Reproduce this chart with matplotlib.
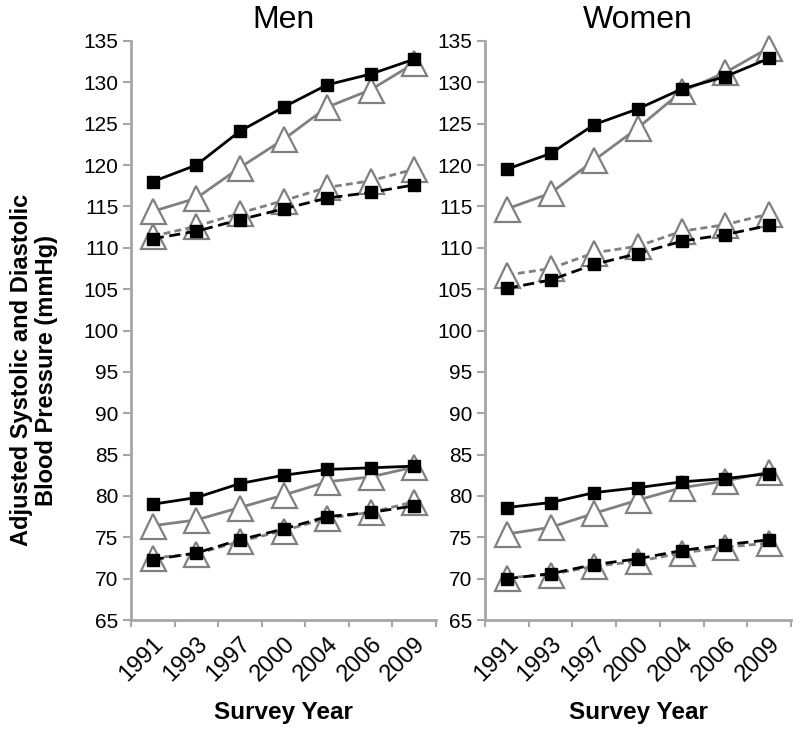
import matplotlib
matplotlib.use("Agg")
import matplotlib.pyplot as plt
import numpy as np

plt.rcParams['font.family'] = ['Liberation Sans', 'DejaVu Sans']

years = ["1991", "1993", "1997", "2000", "2004", "2006", "2009"]

# Men
men_sys_a = [118.0, 120.0, 124.1, 127.0, 129.7, 131.0, 132.8]   # solid black squares
men_sys_b = [114.4, 116.0, 119.7, 123.1, 127.0, 129.1, 132.3]   # solid gray triangles
men_sys_c = [111.1, 112.0, 113.4, 114.7, 116.0, 116.7, 117.6]   # dashed black squares
men_sys_d = [111.4, 112.6, 114.2, 115.7, 117.3, 118.1, 119.5]   # dashed gray triangles
men_dia_a = [79.0, 79.8, 81.5, 82.5, 83.2, 83.4, 83.6]
men_dia_b = [76.4, 77.1, 78.6, 80.1, 81.7, 82.3, 83.5]
men_dia_c = [72.3, 73.1, 74.7, 76.0, 77.5, 78.0, 78.8]
men_dia_d = [72.5, 73.0, 74.5, 75.8, 77.3, 78.0, 79.3]

# Women
wom_sys_a = [119.5, 121.4, 124.9, 126.8, 129.2, 130.7, 132.9]
wom_sys_b = [114.7, 116.6, 120.6, 124.5, 128.9, 131.2, 134.2]
wom_sys_c = [105.1, 106.1, 108.0, 109.3, 110.8, 111.6, 112.7]
wom_sys_d = [106.7, 107.5, 109.4, 110.2, 112.0, 112.8, 114.1]
wom_dia_a = [78.6, 79.2, 80.4, 81.0, 81.7, 82.1, 82.7]
wom_dia_b = [75.4, 76.2, 77.9, 79.5, 81.0, 81.8, 82.9]
wom_dia_c = [70.0, 70.6, 71.7, 72.4, 73.4, 74.1, 74.7]
wom_dia_d = [70.1, 70.5, 71.5, 72.1, 73.1, 73.8, 74.3]

yticks = list(range(65, 140, 5))

GRAY = '#808080'
AXC = '#A6A6A6'

fig = plt.figure(figsize=(8, 7.32), dpi=100)
W, H = 800, 732
ax_m = fig.add_axes([131 / W, 1 - 620 / H, 305 / W, 579 / H])
ax_w = fig.add_axes([485 / W, 1 - 620 / H, 306 / W, 579 / H])

x = np.arange(len(years))


def draw(ax, sa, sb, sc, sd, da, db, dc, dd, title):
    tri = dict(marker='^', markersize=18, markerfacecolor='white',
               markeredgecolor=GRAY, markeredgewidth=1.6, color=GRAY, lw=2.0)
    sq = dict(marker='s', markersize=8, color='black', markerfacecolor='black',
              markeredgecolor='black', lw=2.0)
    for d, c in ((sd, sc), (dd, dc)):
        ax.plot(x, d, linestyle=(0, (2.5, 1.5)), **tri, zorder=2)
        ax.plot(x, c, linestyle=(0, (4, 2)), **sq, zorder=3)
    for b, a in ((sb, sa), (db, da)):
        ax.plot(x, b, linestyle='-', **tri, zorder=4)
        ax.plot(x, a, linestyle='-', **sq, zorder=5)

    ax.set_xlim(-0.5, len(years) - 0.5)
    ax.set_ylim(65, 135)
    ax.set_yticks(yticks)
    ax.set_yticklabels([str(t) for t in yticks], fontsize=15)
    ax.set_xticks(np.arange(-0.5, len(years), 1.0))
    ax.set_xticklabels([])
    ax.set_xticks(x, minor=True)
    ax.set_xticklabels(years, minor=True, rotation=45, ha='right',
                       rotation_mode='anchor', fontsize=17)
    ax.tick_params(axis='x', which='minor', length=0, pad=9)
    ax.tick_params(axis='x', which='major', length=5, width=1.5, color=AXC,
                   direction='out')
    ax.tick_params(axis='y', length=6, width=1.5, color=AXC, direction='out',
                   pad=3)
    for s in ('top', 'right'):
        ax.spines[s].set_visible(False)
    for s in ('left', 'bottom'):
        ax.spines[s].set_color(AXC)
        ax.spines[s].set_linewidth(2)
    ax.set_title(title, fontsize=23, y=1.0, pad=0)
    ax.title.set_position((0.5, (620 - 20) / 579))
    ax.title.set_va('center')
    ax.set_xlabel('Survey Year', fontsize=17.5, fontweight='bold')
    ax.xaxis.set_label_coords(0.5, -(713 - 620) / 579)
    ax.xaxis.label.set_va('center')
    ax.set_facecolor('white')


draw(ax_m, men_sys_a, men_sys_b, men_sys_c, men_sys_d,
     men_dia_a, men_dia_b, men_dia_c, men_dia_d, 'Men')
draw(ax_w, wom_sys_a, wom_sys_b, wom_sys_c, wom_sys_d,
     wom_dia_a, wom_dia_b, wom_dia_c, wom_dia_d, 'Women')

for a in (ax_m, ax_w):
    for line in a.get_lines():
        line.set_clip_on(False)

ax_m.set_ylabel('Adjusted Systolic and Diastolic\nBlood Pressure (mmHg)',
                fontsize=17, fontweight='bold', linespacing=1.1)
ax_m.yaxis.set_label_coords((34 - 131) / 305, (620 - 370) / 579)
ax_m.yaxis.label.set_va('center')

fig.savefig('out.png', dpi=100, facecolor='white')
